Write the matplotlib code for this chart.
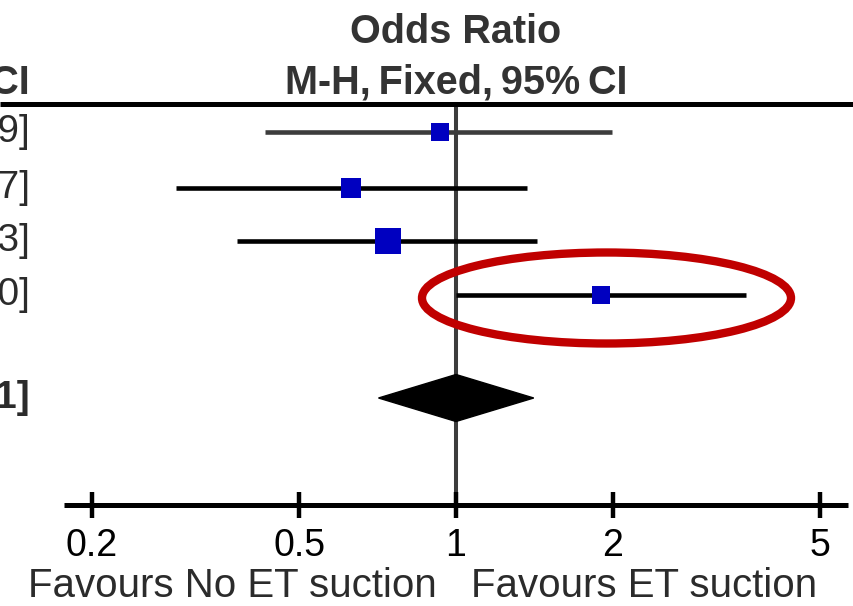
import matplotlib.pyplot as plt
from matplotlib.patches import Ellipse, Polygon

plt.rcParams['font.family'] = ['Liberation Sans', 'DejaVu Sans']

# study rows (odds ratio, lower, upper) - only the right end of the text column is visible
study_or = [0.93, 0.63, 0.74, 1.90]
study_lo = [0.43, 0.29, 0.38, 1.00]
study_hi = [1.99, 1.37, 1.43, 3.60]
study_txt = ["0.93 [0.43, 1.99]", "0.63 [0.29, 1.37]", "0.74 [0.38, 1.43]", "1.90 [1.00, 3.60]"]
total_or, total_lo, total_hi = 1.00, 0.71, 1.41
total_txt = "1.00 [0.71, 1.41]"
ticks = [0.2, 0.5, 1, 2, 5]
tick_labels = ["0.2", "0.5", "1", "2", "5"]

W, H = 854, 606
fig = plt.figure(figsize=(W / 100, H / 100), dpi=100)
ax = fig.add_axes([0, 0, 1, 1])
ax.set_xscale('log')
# 1 decade = 521 px, OR 1 at x = 456 px; y runs in pixels from the top
ax.set_xlim(10 ** (-456 / 521), 10 ** ((W - 456) / 521))
ax.set_ylim(H, 0)
ax.axis('off')

row_y = [132, 188, 241, 295]
total_y = 398
sq_size = [13, 15, 18.7, 13]
line_col = ['#3c3c3c', 'black', 'black', 'black']
txt_col = '#2b2b2b'

# header rule and line of no effect
ax.plot([ax.get_xlim()[0], ax.get_xlim()[1]], [104, 104], color='black', lw=3.6, solid_capstyle='butt')
ax.plot([1, 1], [104, 505], color='#3c3c3c', lw=2.9, zorder=1)

for i in range(len(study_or)):
    ax.plot([study_lo[i], study_hi[i]], [row_y[i], row_y[i]], color=line_col[i], lw=3.3,
            solid_capstyle='butt', zorder=2)
    ax.plot(study_or[i], row_y[i], marker='s', markersize=sq_size[i], color='#0000c0',
            markeredgewidth=0, zorder=3)
    fig.text(30 / W, 1 - row_y[i] / H, study_txt[i], ha='right', va='center',
             fontsize=28, color=txt_col)

dia = Polygon([(total_lo, total_y), (total_or, total_y - 23.5), (total_hi, total_y),
               (total_or, total_y + 23.5)], closed=True, color='black', zorder=3)
ax.add_patch(dia)
fig.text(30 / W, 1 - total_y / H, total_txt, ha='right', va='center',
         fontsize=28, fontweight='bold', color=txt_col)

# headers (tight word spacing as in the original)
ax.text(1, 32, "Odds Ratio", ha='center', va='center', fontsize=28.5, fontweight='bold', color='#333333')
ax.text(1, 83, "M-H,\u2009Fixed,\u200995%\u2009CI", ha='center', va='center', fontsize=28.5,
        fontweight='bold', color='#333333')
fig.text(30 / W, 1 - 83 / H, "Odds Ratio, 95%\u2009CI", ha='right', va='center', fontsize=28.5,
         fontweight='bold', color='#333333')

# bottom axis
ax.plot([0.177, 5.65], [505, 505], color='black', lw=3.6, solid_capstyle='butt')
for t, lab in zip(ticks, tick_labels):
    ax.plot([t, t], [492, 518], color='black', lw=3.2, solid_capstyle='butt')
    ax.text(t, 546, lab, ha='center', va='center', fontsize=27, color='black')
ax.text(0.92, 586, "Favours No ET suction", ha='right', va='center', fontsize=29, color=txt_col)
ax.text(1.07, 586, "Favours ET suction", ha='left', va='center', fontsize=29, color=txt_col)

# red highlight around the last study
ell = Ellipse((606.5 / W, 1 - 298 / H), 369 / W, 91 / H, transform=fig.transFigure,
              fill=False, edgecolor='#c00000', lw=6, zorder=5)
fig.patches.append(ell)

fig.savefig('out.png', dpi=100)
